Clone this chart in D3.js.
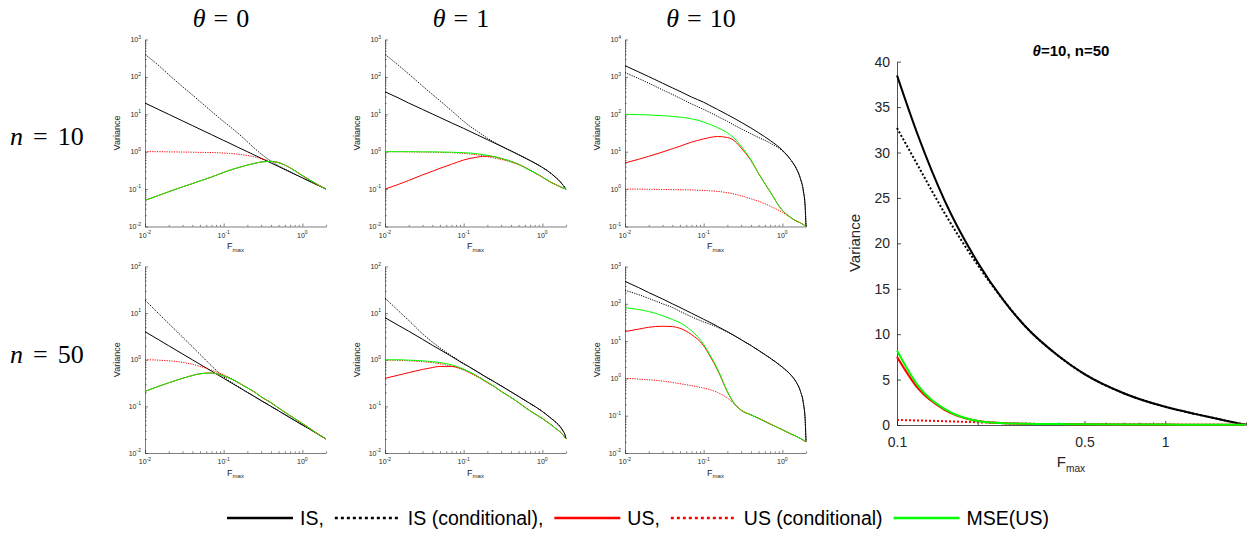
<!DOCTYPE html>
<html>
<head>
<meta charset="utf-8">
<title></title>
<script src="https://d3js.org/d3.v7.min.js"></script>
<style>
  body { margin: 0; background: #fff; }
  svg { display: block; }
  text { font-family: "Liberation Sans", Arial, sans-serif; }
</style>
</head>
<body>
<svg id="fig" width="1250" height="534"></svg>
<script>

// F_max grid shared by all panels
var fmax = [0.01, 0.015, 0.02, 0.03, 0.04, 0.05, 0.07, 0.1, 0.12, 0.15, 0.2, 0.25, 0.3,
            0.4, 0.5, 0.7, 1, 1.3, 1.5, 1.7, 1.85, 1.95, 2];

// theta = 0, n = 10
var t0n10_IS   = [20, 13.3, 10, 6.67, 5, 4, 2.86, 2, 1.67, 1.33, 1, 0.8, 0.667, 0.5, 0.4, 0.286, 0.2, 0.154, 0.133, 0.118, 0.108, 0.103, 0.1];
var t0n10_ISc  = [400, 200, 115, 55, 33, 22, 12, 6.4, 4.7, 3.2, 1.85, 1.2, 0.87, 0.56, 0.42, 0.29, 0.2, 0.154, 0.133, 0.118, 0.108, 0.103, 0.1];
var t0n10_US   = [0.05, 0.068, 0.085, 0.115, 0.14, 0.165, 0.21, 0.28, 0.32, 0.37, 0.44, 0.49, 0.53, 0.55, 0.51, 0.37, 0.23, 0.165, 0.14, 0.12, 0.108, 0.103, 0.1];
var t0n10_USc  = [1.0, 1.0, 0.99, 0.98, 0.97, 0.96, 0.95, 0.92, 0.9, 0.86, 0.79, 0.72, 0.65, 0.56, 0.51, 0.37, 0.23, 0.165, 0.14, 0.12, 0.108, 0.103, 0.1];
var t0n10_MSE  = [0.05, 0.068, 0.085, 0.115, 0.14, 0.165, 0.21, 0.28, 0.32, 0.37, 0.44, 0.49, 0.53, 0.55, 0.51, 0.37, 0.23, 0.165, 0.14, 0.12, 0.108, 0.103, 0.1];

// theta = 1, n = 10
var t1n10_IS   = [40, 27, 20, 13.5, 10.2, 8.2, 5.9, 4.2, 3.5, 2.8, 2.1, 1.68, 1.4, 1.05, 0.83, 0.58, 0.38, 0.26, 0.2, 0.155, 0.125, 0.108, 0.1];
var t1n10_ISc  = [400, 200, 120, 57, 34, 23, 12.5, 6.5, 4.8, 3.5, 2.3, 1.75, 1.42, 1.05, 0.83, 0.58, 0.38, 0.26, 0.2, 0.155, 0.125, 0.108, 0.1];
var t1n10_US   = [0.1, 0.135, 0.17, 0.24, 0.3, 0.36, 0.46, 0.6, 0.66, 0.72, 0.76, 0.73, 0.66, 0.55, 0.46, 0.32, 0.21, 0.15, 0.13, 0.115, 0.106, 0.102, 0.1];
var t1n10_USc  = [1.0, 1.0, 0.99, 0.98, 0.97, 0.96, 0.94, 0.9, 0.87, 0.82, 0.74, 0.67, 0.62, 0.53, 0.45, 0.32, 0.21, 0.15, 0.13, 0.115, 0.106, 0.102, 0.1];
var t1n10_MSE  = [1.0, 1.0, 1.0, 0.99, 0.99, 0.98, 0.97, 0.94, 0.92, 0.88, 0.8, 0.73, 0.66, 0.55, 0.46, 0.32, 0.21, 0.15, 0.13, 0.115, 0.106, 0.102, 0.1];

// theta = 10, n = 10
var t10n10_IS  = [2000, 1350, 1020, 680, 510, 410, 290, 210, 172, 135, 98, 76, 61, 43, 32, 20, 11, 5.8, 3.6, 1.9, 0.9, 0.35, 0.1];
var t10n10_ISc = [1300, 900, 680, 450, 340, 270, 190, 135, 112, 88, 65, 50, 41, 30, 24, 17, 10.5, 5.8, 3.6, 1.9, 0.9, 0.35, 0.1];
var t10n10_US  = [5, 6.3, 7.5, 9.8, 12, 14, 18, 22, 24, 25.5, 24, 19, 12.5, 5.8, 2.6, 0.85, 0.27, 0.17, 0.14, 0.125, 0.113, 0.104, 0.1];
var t10n10_USc = [1.0, 1.0, 0.99, 0.98, 0.97, 0.96, 0.95, 0.92, 0.9, 0.87, 0.8, 0.73, 0.66, 0.55, 0.47, 0.35, 0.24, 0.17, 0.14, 0.125, 0.113, 0.104, 0.1];
var t10n10_MSE = [100, 98, 96, 92, 88, 84, 76, 62, 54, 44, 32, 22, 14, 6, 2.6, 0.85, 0.27, 0.17, 0.14, 0.125, 0.113, 0.104, 0.1];

// theta = 0, n = 50
var t0n50_IS   = [4, 2.67, 2, 1.33, 1, 0.8, 0.57, 0.4, 0.333, 0.267, 0.2, 0.16, 0.133, 0.1, 0.08, 0.057, 0.04, 0.031, 0.0267, 0.0235, 0.0216, 0.0205, 0.02];
var t0n50_ISc  = [19, 9.7, 6, 3.07, 1.9, 1.31, 0.74, 0.43, 0.345, 0.27, 0.2, 0.16, 0.133, 0.1, 0.08, 0.057, 0.04, 0.031, 0.0267, 0.0235, 0.0216, 0.0205, 0.02];
var t0n50_US   = [0.21, 0.27, 0.32, 0.4, 0.46, 0.5, 0.52, 0.45, 0.4, 0.33, 0.25, 0.2, 0.16, 0.12, 0.092, 0.063, 0.043, 0.032, 0.027, 0.0237, 0.0217, 0.0205, 0.02];
var t0n50_USc  = [1.0, 0.98, 0.95, 0.88, 0.8, 0.72, 0.6, 0.47, 0.41, 0.33, 0.25, 0.2, 0.16, 0.12, 0.092, 0.063, 0.043, 0.032, 0.027, 0.0237, 0.0217, 0.0205, 0.02];
var t0n50_MSE  = [0.21, 0.27, 0.32, 0.4, 0.46, 0.5, 0.52, 0.45, 0.4, 0.33, 0.25, 0.2, 0.16, 0.12, 0.092, 0.063, 0.043, 0.032, 0.027, 0.0237, 0.0217, 0.0205, 0.02];

// theta = 1, n = 50
var t1n50_IS   = [8, 5.4, 4.1, 2.75, 2.05, 1.65, 1.18, 0.82, 0.69, 0.55, 0.41, 0.33, 0.275, 0.205, 0.163, 0.115, 0.078, 0.055, 0.045, 0.036, 0.029, 0.024, 0.02];
var t1n50_ISc  = [21, 11, 7, 3.6, 2.4, 1.8, 1.22, 0.83, 0.69, 0.55, 0.41, 0.33, 0.275, 0.205, 0.163, 0.115, 0.078, 0.055, 0.045, 0.036, 0.029, 0.024, 0.02];
var t1n50_US   = [0.4, 0.47, 0.53, 0.62, 0.68, 0.72, 0.72, 0.62, 0.54, 0.44, 0.33, 0.26, 0.21, 0.155, 0.12, 0.08, 0.055, 0.04, 0.033, 0.028, 0.024, 0.021, 0.02];
var t1n50_USc  = [0.98, 0.97, 0.95, 0.91, 0.87, 0.82, 0.73, 0.6, 0.52, 0.43, 0.32, 0.26, 0.21, 0.155, 0.12, 0.08, 0.055, 0.04, 0.033, 0.028, 0.024, 0.021, 0.02];
var t1n50_MSE  = [1.0, 1.0, 0.98, 0.95, 0.91, 0.87, 0.78, 0.63, 0.54, 0.44, 0.33, 0.26, 0.21, 0.155, 0.12, 0.08, 0.055, 0.04, 0.033, 0.028, 0.024, 0.021, 0.02];

// theta = 10, n = 50 (also the large linear panel)
var t10n50_IS  = [400, 270, 200, 135, 100, 80, 56, 38.5, 31.8, 24.8, 17.9, 13.7, 10.9, 7.6, 5.6, 3.5, 2.0, 1.2, 0.8, 0.45, 0.22, 0.08, 0.02];
var t10n50_ISc = [230, 175, 140, 100, 80, 63, 45, 32.7, 28.5, 23.4, 17.6, 13.7, 10.9, 7.6, 5.6, 3.5, 2.0, 1.2, 0.8, 0.45, 0.22, 0.08, 0.02];
var t10n50_US  = [18, 21, 23.5, 25, 24.5, 22, 15, 7.5, 4.0, 1.7, 0.44, 0.2, 0.14, 0.105, 0.085, 0.06, 0.042, 0.032, 0.028, 0.0245, 0.022, 0.0205, 0.02];
var t10n50_USc = [1.0, 0.96, 0.92, 0.85, 0.78, 0.72, 0.64, 0.55, 0.5, 0.42, 0.3, 0.2, 0.14, 0.105, 0.085, 0.06, 0.042, 0.032, 0.028, 0.0245, 0.022, 0.0205, 0.02];
var t10n50_MSE = [79, 70, 62, 48, 38, 31, 19, 8.2, 4.3, 1.8, 0.45, 0.2, 0.14, 0.105, 0.085, 0.06, 0.042, 0.032, 0.028, 0.0245, 0.022, 0.0205, 0.02];

var thetaLabels = ["0", "1", "10"];
var nLabels = ["10", "50"];
var legendLabels = ["IS,", "IS (conditional),", "US,", "US (conditional)", "MSE(US)"];
var bigYTicks = [0, 5, 10, 15, 20, 25, 30, 35, 40];
var bigXTicks = [0.1, 0.5, 1];

var ink = "#262626";
var styles = [
    { color: "#000000", dash: null },
    { color: "#000000", dash: "1.2,1.2" },
    { color: "#ff0000", dash: null },
    { color: "#ff0000", dash: "1.2,1.2" },
    { color: "#00ff00", dash: null }
];

var panels = [
    { col: 0, row: 0, yDom: [1e-2, 1e3], s: [t0n10_IS, t0n10_ISc, t0n10_US, t0n10_USc, t0n10_MSE] },
    { col: 1, row: 0, yDom: [1e-2, 1e3], s: [t1n10_IS, t1n10_ISc, t1n10_US, t1n10_USc, t1n10_MSE] },
    { col: 2, row: 0, yDom: [1e-1, 1e4], s: [t10n10_IS, t10n10_ISc, t10n10_US, t10n10_USc, t10n10_MSE] },
    { col: 0, row: 1, yDom: [1e-2, 1e2], s: [t0n50_IS, t0n50_ISc, t0n50_US, t0n50_USc, t0n50_MSE] },
    { col: 1, row: 1, yDom: [1e-2, 1e2], s: [t1n50_IS, t1n50_ISc, t1n50_US, t1n50_USc, t1n50_MSE] },
    { col: 2, row: 1, yDom: [1e-2, 1e3], s: [t10n50_IS, t10n50_ISc, t10n50_US, t10n50_USc, t10n50_MSE] }
];

var svg = d3.select("#fig");
var serif = "'Liberation Serif', 'DejaVu Serif', serif";

function noDomain(g) { g.select(".domain").remove(); }

function expLabel(g, px, py, e, anchor, fs) {
    var t = g.append("text").attr("x", px).attr("y", py)
        .attr("text-anchor", anchor).attr("font-size", fs).attr("fill", ink);
    t.append("tspan").text("10");
    t.append("tspan").attr("dy", -fs * 0.5).attr("font-size", fs * 0.72).text(e);
}

function fLabel(g, cx, by, fs) {
    var t = g.append("text").attr("x", cx).attr("y", by)
        .attr("text-anchor", "middle").attr("font-size", fs).attr("fill", ink);
    t.append("tspan").text("F");
    t.append("tspan").attr("dy", fs * 0.3).attr("font-size", fs * 0.68).text("max");
}

// small log-log panels
panels.forEach(function (p) {
    var left = 145 + p.col * 240, right = left + 181;
    var top = p.row ? 266.5 : 39.5, bottom = p.row ? 453 : 226.5;
    var x = d3.scaleLog().domain([0.01, 2]).range([left, right]);
    var y = d3.scaleLog().domain(p.yDom).range([bottom, top]);
    var g = svg.append("g").attr("color", ink);

    var e0 = Math.round(Math.log10(p.yDom[0])), e1 = Math.round(Math.log10(p.yDom[1]));
    var yMaj = d3.range(e0, e1 + 1).map(function (e) { return Math.pow(10, e); });
    var yMin = [];
    d3.range(e0, e1).forEach(function (e) {
        for (var k = 2; k <= 9; k++) yMin.push(k * Math.pow(10, e));
    });
    var xMaj = [0.01, 0.1, 1];
    var xMin = [];
    [-2, -1, 0].forEach(function (e) {
        for (var k = 2; k <= 9; k++) { var v = k * Math.pow(10, e); if (v <= 2) xMin.push(v); }
    });

    g.append("g").attr("transform", "translate(0," + bottom + ")")
        .call(d3.axisBottom(x).tickValues(xMaj).tickSize(-3).tickSizeOuter(0).tickFormat(""))
        .call(function (a) { a.selectAll("path,line").attr("stroke-width", 0.6); });
    g.append("g").attr("transform", "translate(0," + bottom + ")")
        .call(d3.axisBottom(x).tickValues(xMin).tickSize(-1.6).tickFormat("")).call(noDomain)
        .selectAll("line").attr("stroke-width", 0.6);
    g.append("g").attr("transform", "translate(" + left + ",0)")
        .call(d3.axisLeft(y).tickValues(yMaj).tickSize(-3).tickSizeOuter(0).tickFormat(""))
        .call(function (a) { a.selectAll("path,line").attr("stroke-width", 0.6); });
    g.append("g").attr("transform", "translate(" + left + ",0)")
        .call(d3.axisLeft(y).tickValues(yMin).tickSize(-1.6).tickFormat("")).call(noDomain)
        .selectAll("line").attr("stroke-width", 0.6);

    yMaj.forEach(function (v, i) { expLabel(g, left - 4, y(v) + 2.5, e0 + i, "end", 7); });
    xMaj.forEach(function (v, i) { expLabel(g, x(v), bottom + 11, i - 2, "middle", 7); });

    g.append("text").attr("transform", "translate(" + (left - 25) + "," + ((top + bottom) / 2) + ") rotate(-90)")
        .attr("text-anchor", "middle").attr("font-size", 9).attr("fill", ink).text("Variance");
    fLabel(g, (left + right) / 2, bottom + 22.5, 9);

    var line = d3.line().x(function (d) { return x(d[0]); }).y(function (d) { return y(d[1]); })
        .curve(d3.curveMonotoneX);
    p.s.forEach(function (vals, i) {
        var pts = fmax.map(function (f, j) { return [f, vals[j]]; });
        svg.append("path").attr("d", line(pts)).attr("fill", "none")
            .attr("stroke", styles[i].color).attr("stroke-width", 1)
            .attr("stroke-dasharray", styles[i].dash);
    });
});

// column and row headings
thetaLabels.forEach(function (t, i) {
    var tx = svg.append("text").attr("x", 221 + i * 240).attr("y", 27).attr("text-anchor", "middle")
        .style("font-family", serif).attr("font-size", 26).attr("fill", "#000");
    tx.append("tspan").attr("font-style", "italic").text("θ");
    tx.append("tspan").attr("dx", 8).text("=");
    tx.append("tspan").attr("dx", 8).text(t);
});
nLabels.forEach(function (n, i) {
    var tx = svg.append("text").attr("x", 10).attr("y", i ? 363 : 145)
        .style("font-family", serif).attr("font-size", 26).attr("fill", "#000");
    tx.append("tspan").attr("font-style", "italic").text("n");
    tx.append("tspan").attr("dx", 10).text("=");
    tx.append("tspan").attr("dx", 10).text(n);
});

// large linear panel, theta = 10, n = 50
(function () {
    var left = 897, right = 1246, top = 61.7, bottom = 425;
    var x = d3.scaleLog().domain([0.1, 2]).range([left, right]);
    var y = d3.scaleLinear().domain([0, 40]).range([bottom, top]);
    var g = svg.append("g").attr("color", ink);
    var xMin = [0.2, 0.3, 0.4, 0.6, 0.7, 0.8, 0.9, 2];

    g.append("g").attr("transform", "translate(0," + bottom + ")")
        .call(d3.axisBottom(x).tickValues(bigXTicks).tickSize(-4).tickSizeOuter(0).tickPadding(12)
            .tickFormat(function (d) { return String(d); }))
        .call(function (a) {
            a.selectAll("path,line").attr("stroke-width", 0.8);
            a.selectAll("text").attr("font-size", 14).attr("font-family", "'Liberation Sans', Arial, sans-serif");
        });
    g.append("g").attr("transform", "translate(0," + bottom + ")")
        .call(d3.axisBottom(x).tickValues(xMin).tickSize(-2.5).tickFormat("")).call(noDomain)
        .selectAll("line").attr("stroke-width", 0.8);
    g.append("g").attr("transform", "translate(" + left + ",0)")
        .call(d3.axisLeft(y).tickValues(bigYTicks).tickSize(-4).tickSizeOuter(0).tickPadding(7))
        .call(function (a) {
            a.selectAll("path,line").attr("stroke-width", 0.8);
            a.selectAll("text").attr("font-size", 14).attr("font-family", "'Liberation Sans', Arial, sans-serif");
        });

    g.append("text").attr("transform", "translate(860,243) rotate(-90)")
        .attr("text-anchor", "middle").attr("font-size", 15).attr("fill", ink).text("Variance");
    fLabel(g, 1071, 467, 15);

    var tt = svg.append("text").attr("x", 1071).attr("y", 56).attr("text-anchor", "middle")
        .attr("font-size", 15).attr("font-weight", "bold").attr("fill", "#000");
    tt.append("tspan").attr("font-style", "italic").text("θ");
    tt.append("tspan").text("=10, n=50");

    var bigSeries = [t10n50_IS, t10n50_ISc, t10n50_US, t10n50_USc, t10n50_MSE];
    var line = d3.line().x(function (d) { return x(d[0]); }).y(function (d) { return y(d[1]); })
        .curve(d3.curveMonotoneX);
    bigSeries.forEach(function (vals, i) {
        var pts = fmax.map(function (f, j) { return [f, vals[j]]; })
            .filter(function (d) { return d[0] >= 0.1; });
        svg.append("path").attr("d", line(pts)).attr("fill", "none")
            .attr("stroke", styles[i].color).attr("stroke-width", 2)
            .attr("stroke-dasharray", styles[i].dash ? "2,2" : null);
    });
})();

// legend
var lx = 227, ly = 518;
legendLabels.forEach(function (lab, i) {
    svg.append("line").attr("x1", lx).attr("x2", lx + 66).attr("y1", ly).attr("y2", ly)
        .attr("stroke", styles[i].color).attr("stroke-width", 2.7)
        .attr("stroke-dasharray", styles[i].dash ? "3,3" : null);
    var t = svg.append("text").attr("x", lx + 73).attr("y", ly + 7).attr("font-size", 19.5)
        .attr("fill", "#000").text(lab);
    lx = lx + 73 + t.node().getComputedTextLength() + 11;
});

</script>
</body>
</html>
